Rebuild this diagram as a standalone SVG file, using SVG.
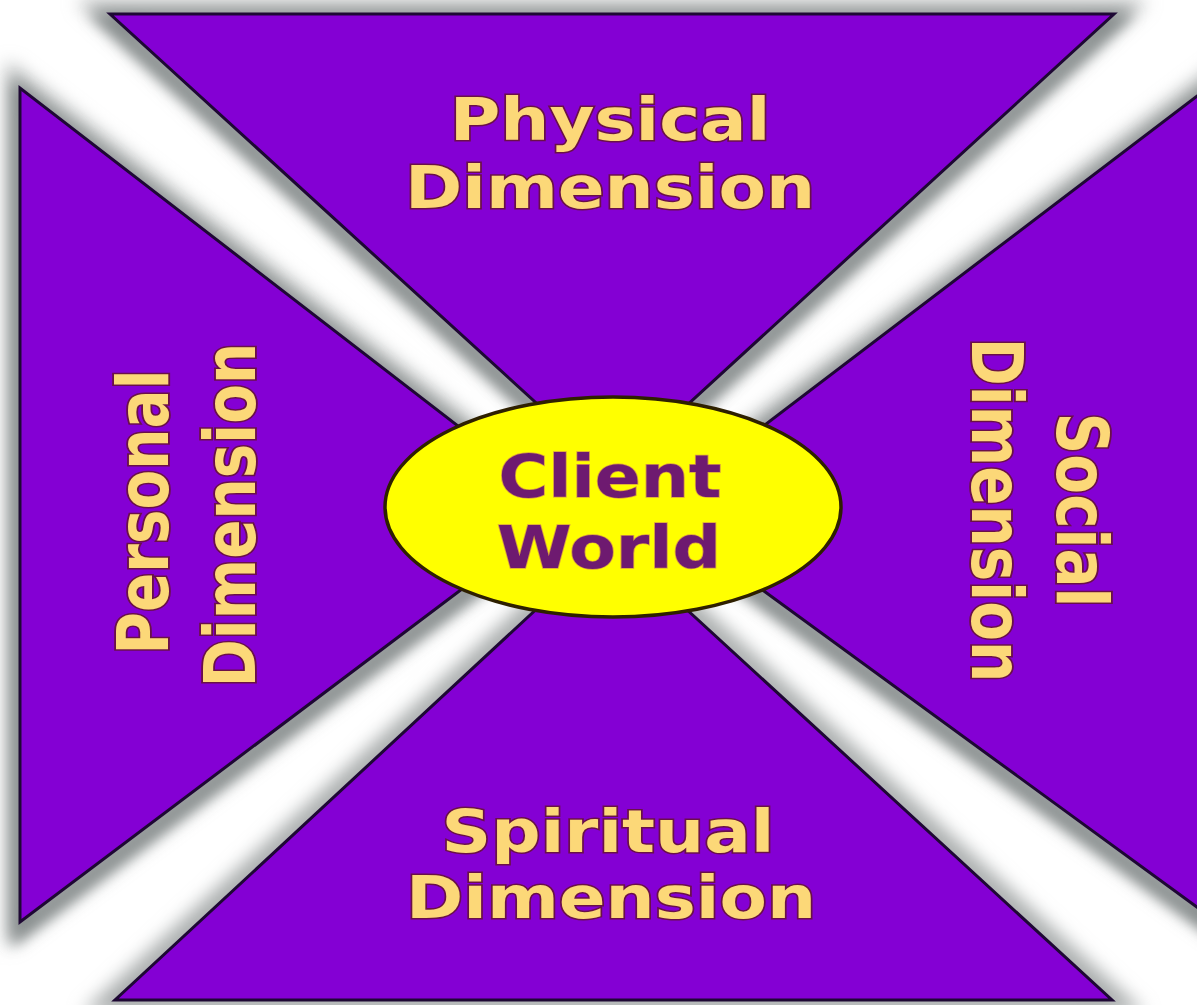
<svg xmlns="http://www.w3.org/2000/svg" width="1197" height="1005" viewBox="0 0 1197 1005">
  <defs>
    <filter id="blurHalo" x="-10%" y="-10%" width="120%" height="120%">
      <feGaussianBlur stdDeviation="9"/>
    </filter>
    <filter id="blurDrop" x="-10%" y="-10%" width="120%" height="120%">
      <feGaussianBlur stdDeviation="7"/>
    </filter>
    <style>
      .tri { fill: #8400d4; stroke: #1e0834; stroke-width: 3; stroke-linejoin: miter; }
      .halo { fill: none; stroke: #a8acac; stroke-width: 26; }
      .drop { fill: none; stroke: #8a9090; stroke-width: 16; }
      .lbl { font-family: "DejaVu Sans", Verdana, sans-serif; font-weight: bold; font-size: 59px;
             fill: #fcd878; stroke: #6a1048; stroke-width: 3; paint-order: stroke; text-anchor: middle; }
      .vlbl { font-family: "DejaVu Sans", Verdana, sans-serif; font-weight: bold; font-size: 58px;
             fill: #fcd878; stroke: #6a1048; stroke-width: 3; paint-order: stroke; text-anchor: middle; }
      .clbl { font-family: "DejaVu Sans", Verdana, sans-serif; font-weight: bold; font-size: 59px;
             fill: #6e1a70; stroke: #d8a040; stroke-width: 1.5; paint-order: stroke; text-anchor: middle; }
    </style>
  </defs>

  <rect x="0" y="0" width="1197" height="1005" fill="#ffffff"/>

  <!-- shaded bands between the sectors -->
  <g id="bands">
    <g filter="url(#blurHalo)">
      <polygon class="halo" points="110,14 1114,14 613,473"/>
      <polygon class="halo" points="20,88 20,922 567,510"/>
      <polygon class="halo" points="1205,90 1205,913 653,510"/>
      <polygon class="halo" points="115,1000 1112,1000 611,540"/>
    </g>
    <g filter="url(#blurDrop)" transform="translate(0,8)">
      <polygon class="drop" points="110,14 1114,14 613,473"/>
      <polygon class="drop" points="20,88 20,922 567,510"/>
      <polygon class="drop" points="1205,90 1205,913 653,510"/>
    </g>
  </g>

  <g id="node-physical">
    <polygon class="tri" points="110,14 1114,14 613,473"/>
    <text class="lbl" transform="translate(610,140) scale(1.17,1)">Physical</text>
    <text class="lbl" transform="translate(610,208) scale(1.17,1)">Dimension</text>
  </g>

  <g id="node-personal">
    <polygon class="tri" points="20,88 20,922 567,510"/>
    <text class="vlbl" transform="translate(168,512) rotate(-90) scale(1,1.24)">Personal</text>
    <text class="vlbl" transform="translate(255,515) rotate(-90) scale(1,1.24)">Dimension</text>
  </g>

  <g id="node-social">
    <polygon class="tri" points="1205,90 1205,913 653,510"/>
    <text class="vlbl" transform="translate(1057,510) rotate(90) scale(1,1.24)">Social</text>
    <text class="vlbl" transform="translate(972,510) rotate(90) scale(1,1.24)">Dimension</text>
  </g>

  <g id="node-spiritual">
    <polygon class="tri" points="115,1000 1112,1000 611,540"/>
    <text class="lbl" transform="translate(608,852) scale(1.17,1)">Spiritual</text>
    <text class="lbl" transform="translate(611,918) scale(1.17,1)">Dimension</text>
  </g>

  <g id="node-client">
    <ellipse cx="613" cy="507" rx="228" ry="110" fill="#ffff00" stroke="#2e2000" stroke-width="3.5"/>
    <text class="clbl" transform="translate(610,497) scale(1.15,1)">Client</text>
    <text class="clbl" transform="translate(609,568) scale(1.15,1)">World</text>
  </g>
</svg>
